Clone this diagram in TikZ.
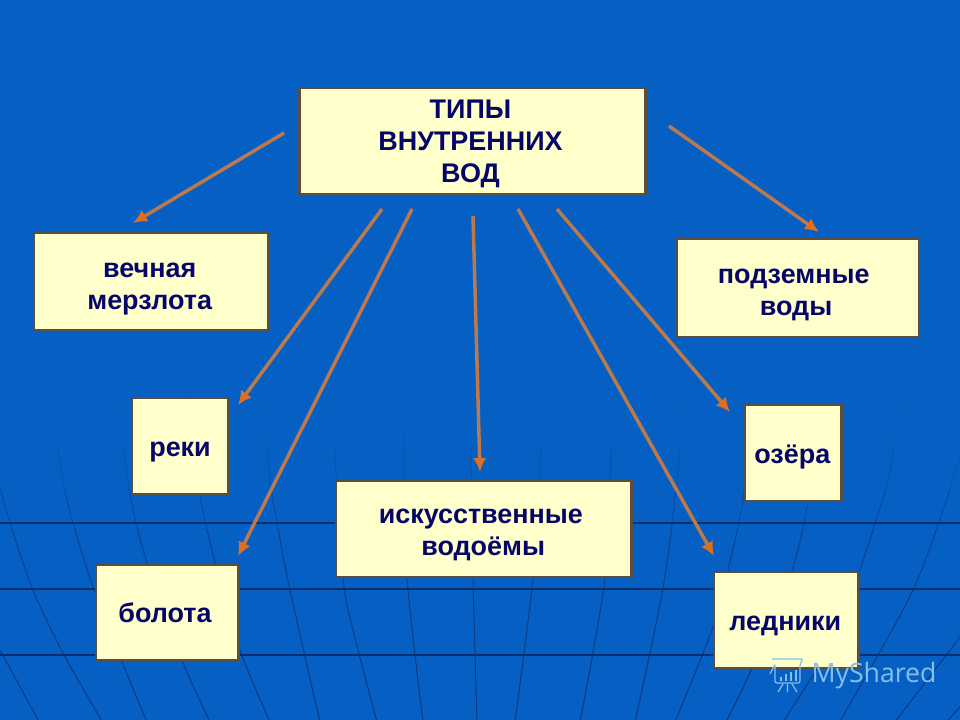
\documentclass[tikz,border=0pt]{standalone}
\usepackage{fontspec}
\setmainfont{Liberation Sans}
\newfontfamily\wmfont{Open Sans}
\usetikzlibrary{arrows.meta}
\definecolor{bgblue}{HTML}{0660C4}
\definecolor{gridnavy}{HTML}{0A2F6E}
\definecolor{boxfill}{HTML}{FFFFCC}
\definecolor{boxedge}{HTML}{5C4D3C}
\definecolor{inkblue}{HTML}{06066A}
\definecolor{shaft}{HTML}{BC7A4C}
\definecolor{tip}{HTML}{DE6F1E}
\definecolor{wm}{HTML}{86BEEA}
\newcommand{\lab}[3]{\raisebox{#2}[\height][\depth]{\kern#1\relax\begin{tabular}{@{}c@{}}#3\end{tabular}\kern-#1\relax}}
\tikzset{
  x=0.75pt,y=-0.75pt,
  box/.style={draw=boxedge,line width=1.7pt,fill=boxfill,inner sep=0pt,
    text=inkblue,
    font=\fontsize{20.2}{23.8}\selectfont\bfseries},
  link/.style={draw=shaft,line width=2.6pt,
    -{Latex[color=tip,length=10.5pt,width=10pt]}},
  gridline/.style={line width=1.1pt,draw=gridnavy},
  meridian/.style={line width=0.75pt},
  wmline/.style={draw=wm,line width=0.9pt}
}
\newcommand{\meridians}{%
  \draw[smooth] plot coordinates {(-3,475) (0,487) (10,523) (33,590) (63,653) (100,718) (102,722)};
  \draw[smooth] plot coordinates {(49,340) (54,420) (63,480) (73,523) (93,587) (122,662) (147,722)};
  \draw[smooth] plot coordinates {(118,340) (121,420) (130,495) (147,563) (182,660) (210,722)};
  \draw[smooth] plot coordinates {(190,340) (192,420) (200,495) (215,562) (240,650) (270,722)};
  \draw[smooth] plot coordinates {(263,340) (265,420) (270,480) (277,523) (290,590) (320,722)};
  \draw[smooth] plot coordinates {(331,340) (333,420) (343,577) (353,630) (377,722)};
  \draw[smooth] plot coordinates {(403,340) (404,450) (407,577) (423,722)};
  \draw[smooth] plot coordinates {(471,340) (471,450) (473,577) (477,722)};
  \draw[smooth] plot coordinates {(542,340) (541,450) (533,578) (515,722)};
  \draw[smooth] plot coordinates {(612,340) (611,450) (605,578) (580,722)};
  \draw[smooth] plot coordinates {(683,340) (682,420) (677,480) (663,588) (635,722)};
  \draw[smooth] plot coordinates {(750,340) (749,420) (743,500) (728,570) (713,627) (675,722)};
  \draw[smooth] plot coordinates {(824,340) (820,420) (808,502) (792,570) (752,668) (726,722)};
  \draw[smooth] plot coordinates {(897,340) (896,420) (888,480) (860,570) (840,630) (783,722)};
  \draw[smooth] plot coordinates {(965,440) (953,480) (913,590) (842,718) (840,722)};
  \draw[smooth] plot coordinates {(963,633) (960,637) (898,718) (895,722)};
  \draw[smooth] plot coordinates {(963,704) (960,707) (950,718) (947,722)};
  \draw[smooth] plot coordinates {(-3,645) (0,650) (37,718) (39,722)};
}
\begin{document}
\begin{tikzpicture}
\useasboundingbox (0,0) rectangle (960,720);
\fill[bgblue] (0,0) rectangle (960,720);

% faded globe grid, drawn in bands that darken downwards
\foreach \ya/\yb/\pct in {340/400/6,400/450/10,450/490/22,490/530/45,530/590/60,590/650/70,650/720/80}{
  \begin{scope}
    \clip (0,\ya) rectangle (960,\yb);
    \begin{scope}[meridian,draw=gridnavy!\pct!bgblue]
      \meridians
    \end{scope}
  \end{scope}
}
\draw[gridline] (0,523) -- (960,523);
\draw[gridline] (0,589) -- (960,589);
\draw[gridline] (0,655) -- (960,655);

% boxes
\node[box,minimum width=259.5pt,minimum height=80pt] (top) at (472.5,141) {\lab{-1.5pt}{-2.5pt}{ТИПЫ\\ВНУТРЕННИХ\\ВОД}};
\node[box,minimum width=175.8pt,minimum height=73.3pt] (perma) at (151.3,281.7) {\lab{-1.2pt}{-4pt}{вечная\\мерзлота}};
\node[box,minimum width=181.8pt,minimum height=73.8pt] (ground) at (798,288) {\lab{-3.2pt}{-3.7pt}{подземные\\\hspace*{3.5pt}воды}};
\node[box,minimum width=72.3pt,minimum height=72.3pt] (rivers) at (180.3,446) {\lab{-0.2pt}{-3pt}{реки}};
\node[box,minimum width=72.3pt,minimum height=72.3pt] (lakes) at (793.2,453) {\lab{-0.7pt}{-3pt}{озёра}};
\node[box,minimum width=221.8pt,minimum height=72.3pt] (res) at (483.5,529) {\lab{-2pt}{-3pt}{искусственные\\\hspace*{3.5pt}водоёмы}};
\node[box,minimum width=106.8pt,minimum height=71.8pt] (swamp) at (167.2,612.5) {\lab{-1.7pt}{-3pt}{болота}};
\node[box,minimum width=108.3pt,minimum height=72.3pt] (glacier) at (786.2,620) {\lab{-0.7pt}{-3pt}{ледники}};

% connector ends
\coordinate (s1) at (284,133); \coordinate (e1) at (133,223);
\coordinate (s2) at (382,209); \coordinate (e2) at (238,405);
\coordinate (s3) at (412,209); \coordinate (e3) at (238,556);
\coordinate (s4) at (473,216); \coordinate (e4) at (480,472);
\coordinate (s5) at (518,209); \coordinate (e5) at (714,556);
\coordinate (s6) at (557,209); \coordinate (e6) at (730,412);
\coordinate (s7) at (669,126); \coordinate (e7) at (819,232);
\foreach \i in {1,...,7}{\draw[link] (s\i) -- (e\i);}

% watermark
\node[text=wm,font=\wmfont\fontsize{20}{24}\selectfont,inner sep=0pt] (mark) at (874,676) {MyShared};
\coordinate (bA) at (772,659); \coordinate (bB) at (803,659);
\coordinate (bC) at (800,683); \coordinate (bD) at (775,683);
\draw[wmline,rounded corners=1.5pt] (bA) -- (bB) -- (800,664) -- (800,683) -- (bD) -- (775,664) -- (770,674);
\draw[wmline,line width=2.2pt] (781,681) -- (781,677) (786,681) -- (786,674) (791,681) -- (791,672) (796,681) -- (796,670);
\draw[wmline] (783,684) -- (778,692) (792,684) -- (797,692) (787.5,684) -- (787.5,692);
\end{tikzpicture}
\end{document}
